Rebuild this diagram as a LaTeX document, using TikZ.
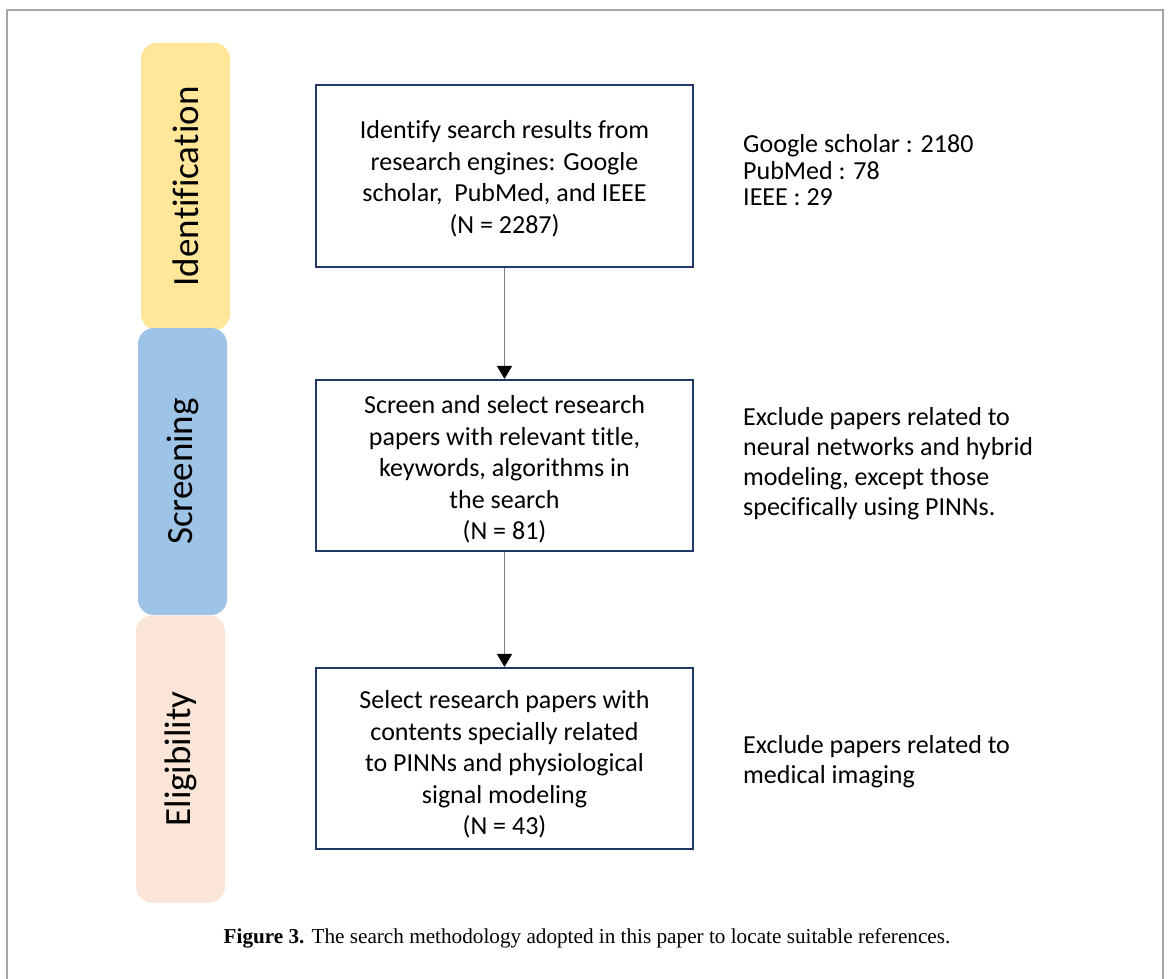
\documentclass[tikz,border=0pt]{standalone}
\usepackage{fontspec}
\setmainfont[Ligatures={NoCommon,NoContextual}]{Carlito}
\newfontfamily\capfont{Liberation Serif}
\newcommand\zk{\kern0pt }
\usetikzlibrary{arrows.meta}
\definecolor{yel}{HTML}{FFE699}
\definecolor{blu}{HTML}{9DC3E6}
\definecolor{pch}{HTML}{FBE5D6}
\definecolor{navy}{HTML}{1F3864}
\definecolor{framegray}{HTML}{A6A6A6}
\definecolor{arrgray}{HTML}{7F7F7F}
\tikzset{
  phase/.style={rounded corners=16pt, rotate=90, minimum width=287pt, minimum height=89pt,
    inner sep=0pt, font=\fontsize{37}{44}\selectfont},
  stepbox/.style={draw=navy, line width=2.2pt, minimum width=377pt, inner sep=0pt},
  steptext/.style={align=center, inner sep=0pt, font=\fontsize{26}{31.5}\selectfont},
  note/.style={anchor=west, align=left, inner sep=0pt, font=\fontsize{26}{30}\selectfont},
  arr/.style={draw=arrgray, line width=1.5pt, -{Triangle[length=13pt,width=15pt,black]}}
}
\begin{document}
\begin{tikzpicture}[x=1pt,y=-1pt]
\useasboundingbox (0,0) rectangle (1170,979);
\fill[white] (0,0) rectangle (1170,979);
\draw[framegray, line width=1.5pt] (7,979) -- (7,10) -- (1163,10) -- (1163,979);

% phase bars
\node[phase, fill=yel] (pid) at (185.5,186.5) {Iden\zk ti\zk f\zk ica\zk ti\zk on};
\node[phase, fill=pch] (pel) at (180.5,759) {Eligibility};
\node[phase, fill=blu] (psc) at (182.5,471.5) {Screening};

% step boxes
\node[stepbox, minimum height=182pt] (b1) at (504.5,176) {};
\node[stepbox, minimum height=171pt] (b2) at (504.5,465.5) {};
\node[stepbox, minimum height=181pt] (b3) at (504.5,758.5) {};
\node[steptext] (t1) at ([yshift=-3pt]b1.center) {Iden\zk ti\zk fy search results from\\research engines: Google\\scholar,\ \ PubMed, and IEEE\\(N = 2287)};
\node[steptext] (t2) at ([yshift=-4pt]b2.center) {Screen and select research\\papers with relevant ti\zk tle,\\keywords, algorithms in\\the search\\(N = 81)};
\node[steptext] (t3) at ([yshift=-6pt]b3.center) {Select research papers with\\contents specially related\\to PINNs and physiological\\signal modeling\\(N = 43)};

% connectors
\draw[arr] (b1.south) -- (b2.north);
\draw[arr] (b2.south) -- (b3.north);

% notes
\node[note, font=\fontsize{26}{26.5}\selectfont] (n1) at (743,170.5) {Google scholar : 2180\\PubMed : 78\\IEEE : 29};
\node[note] (n2) at (743,463.5) {Exclude papers related to\\neural networks and hybrid\\modeling, except those\\speci\zk f\zk ically using PINNs.};
\node[note] (n3) at (743,762) {Exclude papers related to\\medical imaging};

% caption
\node[inner sep=0pt, font=\capfont\fontsize{21.2}{25}\selectfont] (cap) at (587,938)
  {\textbf{Figure 3.} The search methodology adopted in this paper to locate suitable references.};
\end{tikzpicture}
\end{document}
